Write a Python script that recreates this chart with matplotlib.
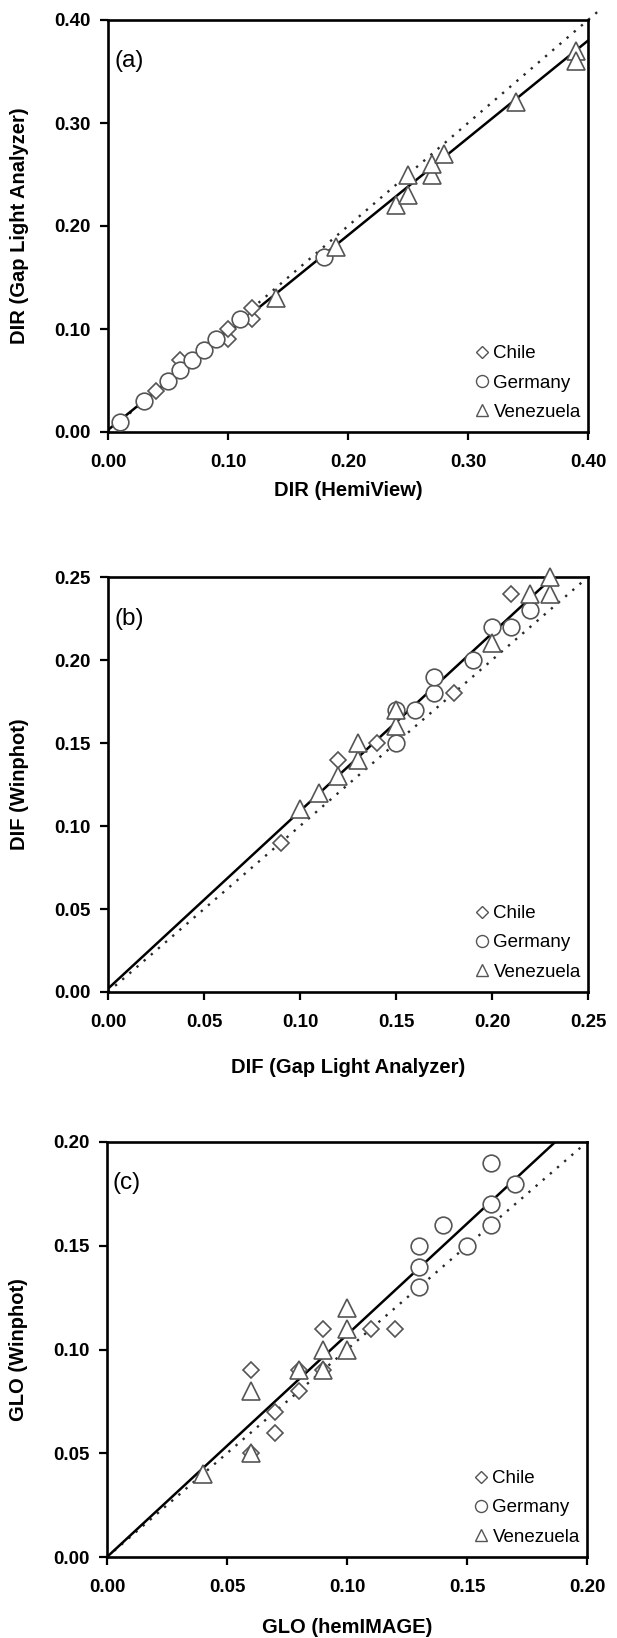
import matplotlib
matplotlib.use("Agg")
import matplotlib.pyplot as plt
from matplotlib.lines import Line2D
import numpy as np

plt.rcParams['font.family'] = ['Liberation Sans', 'DejaVu Sans']

# ---------------- data ----------------
# Panel (a): DIR HemiView vs Gap Light Analyzer
a_chile_x = [0.04, 0.06, 0.10, 0.10, 0.12, 0.12]
a_chile_y = [0.04, 0.07, 0.09, 0.10, 0.11, 0.12]
a_germany_x = [0.01, 0.03, 0.05, 0.06, 0.07, 0.08, 0.09, 0.11, 0.18]
a_germany_y = [0.01, 0.03, 0.05, 0.06, 0.07, 0.08, 0.09, 0.11, 0.17]
a_venezuela_x = [0.14, 0.19, 0.24, 0.25, 0.25, 0.27, 0.27, 0.28, 0.34, 0.39, 0.39]
a_venezuela_y = [0.13, 0.18, 0.22, 0.23, 0.25, 0.25, 0.26, 0.27, 0.32, 0.37, 0.36]

# Panel (b): DIF Gap Light Analyzer vs Winphot
b_chile_x = [0.09, 0.12, 0.14, 0.18, 0.21]
b_chile_y = [0.09, 0.14, 0.15, 0.18, 0.24]
b_germany_x = [0.15, 0.15, 0.16, 0.17, 0.17, 0.19, 0.20, 0.21, 0.22]
b_germany_y = [0.15, 0.17, 0.17, 0.18, 0.19, 0.20, 0.22, 0.22, 0.23]
b_venezuela_x = [0.10, 0.11, 0.12, 0.13, 0.13, 0.15, 0.15, 0.20, 0.22, 0.23, 0.23]
b_venezuela_y = [0.11, 0.12, 0.13, 0.14, 0.15, 0.16, 0.17, 0.21, 0.24, 0.24, 0.25]

# Panel (c): GLO hemIMAGE vs Winphot
c_chile_x = [0.06, 0.06, 0.07, 0.07, 0.08, 0.08, 0.09, 0.09, 0.11, 0.12]
c_chile_y = [0.09, 0.05, 0.07, 0.06, 0.08, 0.09, 0.09, 0.11, 0.11, 0.11]
c_germany_x = [0.13, 0.13, 0.13, 0.14, 0.15, 0.16, 0.16, 0.16, 0.17]
c_germany_y = [0.13, 0.14, 0.15, 0.16, 0.15, 0.16, 0.17, 0.19, 0.18]
c_venezuela_x = [0.04, 0.06, 0.06, 0.08, 0.09, 0.09, 0.10, 0.10, 0.10]
c_venezuela_y = [0.04, 0.05, 0.08, 0.09, 0.09, 0.10, 0.10, 0.11, 0.12]

# regression lines (intercept, slope) and 1:1 line extents
reg_a = (0.002, 0.945)
reg_b = (0.002, 1.07)
reg_c = (0.0, 1.071)
one_to_one_end = [0.41, 0.247, 0.198]

axis_max = [0.40, 0.25, 0.20]
tick_labels = [["0.00", "0.10", "0.20", "0.30", "0.40"],
               ["0.00", "0.05", "0.10", "0.15", "0.20", "0.25"],
               ["0.00", "0.05", "0.10", "0.15", "0.20"]]
xlabels = ["DIR (HemiView)", "DIF (Gap Light Analyzer)", "GLO (hemIMAGE)"]
ylabels = ["DIR (Gap Light Analyzer)", "DIF (Winphot)", "GLO (Winphot)"]
panel_tags = ["(a)", "(b)", "(c)"]
series_names = ["Chile", "Germany", "Venezuela"]

panels = [
    [(a_chile_x, a_chile_y), (a_germany_x, a_germany_y), (a_venezuela_x, a_venezuela_y)],
    [(b_chile_x, b_chile_y), (b_germany_x, b_germany_y), (b_venezuela_x, b_venezuela_y)],
    [(c_chile_x, c_chile_y), (c_germany_x, c_germany_y), (c_venezuela_x, c_venezuela_y)],
]
regs = [reg_a, reg_b, reg_c]

# ---------------- styling ----------------
markers = ["D", "o", "^"]
msizes = [8.5, 12, 12.5]
edge = "#555555"

fig = plt.figure(figsize=(6.17, 16.38), dpi=100)
W, H = 617.0, 1638.0
boxes = [(108, 20, 432), (108, 577, 992), (107, 1142, 1557)]
xlabel_y = [-0.143, -0.181, -0.171]

for i in range(3):
    left, top, bottom = boxes[i]
    ax = fig.add_axes([left / W, (H - bottom) / H, 480 / W, (bottom - top) / H])
    m = axis_max[i]
    ax.set_xlim(0, m)
    ax.set_ylim(0, m)
    ticks = [float(t) for t in tick_labels[i]]
    ax.set_xticks(ticks)
    ax.set_yticks(ticks)
    ax.set_xticklabels(tick_labels[i])
    ax.set_yticklabels(tick_labels[i])
    for s in ax.spines.values():
        s.set_linewidth(1.9)
    ax.tick_params(axis='both', direction='out', length=6, width=1.6,
                   labelsize=13.5, top=False, right=False)
    ax.tick_params(axis='x', pad=9.5)
    ax.tick_params(axis='y', pad=6.5)
    for lab in ax.get_xticklabels() + ax.get_yticklabels():
        lab.set_fontweight('bold')

    # 1:1 line
    e = one_to_one_end[i]
    ax.plot([0, e], [0, e], linestyle=(0, (1, 3.0)), color="#2a2a2a", lw=1.7,
            clip_on=False, zorder=2)
    # regression line
    b0, b1 = regs[i]
    xs = np.array([0.0, m])
    ax.plot(xs, b0 + b1 * xs, color="black", lw=1.8, zorder=3)

    # data
    handles = []
    for k, (xv, yv) in enumerate(panels[i]):
        ax.plot(xv, yv, linestyle='none', marker=markers[k], ms=msizes[k],
                mfc='white', mec=edge, mew=1.2, zorder=4 + k, clip_on=False)
        handles.append(Line2D([], [], linestyle='none', marker=markers[k],
                              ms=msizes[k] * 0.72, mfc='white', mec=edge, mew=1.0))

    ax.legend(handles, series_names, loc='lower right', bbox_to_anchor=(0.985, 0.027),
              frameon=False, fontsize=13.5, handlelength=0.6, handletextpad=0.3,
              labelspacing=0.65, borderpad=0, borderaxespad=0)

    ax.text(0.0125, 0.90, panel_tags[i], transform=ax.transAxes, fontsize=17.5,
            ha='left', va='center')

    ax.set_xlabel(xlabels[i], fontsize=14.5, fontweight='bold')
    ax.xaxis.set_label_coords(0.5, xlabel_y[i])
    ax.xaxis.label.set_va('center')
    ax.set_ylabel(ylabels[i], fontsize=14.5, fontweight='bold')
    ax.yaxis.set_label_coords(-0.185, 0.5)
    ax.yaxis.label.set_va('center')

fig.savefig("out.png", dpi=100)
